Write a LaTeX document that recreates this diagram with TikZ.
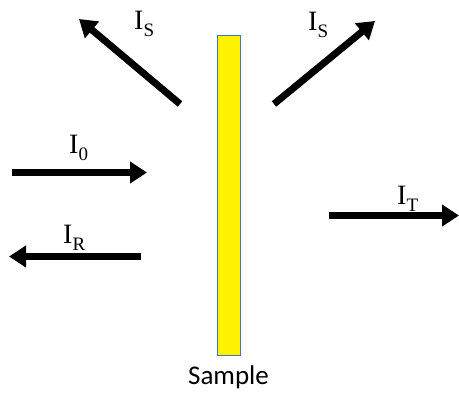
\documentclass[tikz,border=0pt]{standalone}
\usepackage{fontspec}
\setmainfont{Liberation Serif}
\newfontfamily\carlito{Carlito}
\usetikzlibrary{arrows.meta}
\definecolor{rimblue}{RGB}{68,114,196}
\newcommand\intlbl[1]{I\raisebox{-0.28em}{\fontsize{19}{19}\selectfont #1}}
\tikzset{
  beam/.style={line width=7pt, -{Triangle[length=17pt,width=21pt]}},
  lbl/.style={anchor=base west, inner sep=0pt, font=\fontsize{28}{28}\selectfont},
}
\begin{document}
\begin{tikzpicture}[x=1pt,y=-1pt]
\useasboundingbox (0,0) rectangle (459,392);
\node[draw=rimblue, line width=1pt, fill=yellow, minimum width=23pt, minimum height=320pt, inner sep=0pt] (sample) at (229,195) {};
\node[inner sep=0pt, font=\carlito\fontsize{27}{27}\selectfont] (samplelbl) at (228.5,377) {Sample};
% beams
\coordinate (s1a) at (180,104); \coordinate (s1b) at (79,19);
\coordinate (s2a) at (274,104); \coordinate (s2b) at (375,21);
\coordinate (i0a) at (12,172.5); \coordinate (i0b) at (147,172.5);
\coordinate (ira) at (141,256.5); \coordinate (irb) at (9,256.5);
\coordinate (ita) at (329,215.5); \coordinate (itb) at (459,215.5);
\draw[beam] (s1a) -- (s1b);
\draw[beam] (s2a) -- (s2b);
\draw[beam] (i0a) -- (i0b);
\draw[beam] (ira) -- (irb);
\draw[beam] (ita) -- (itb);
% labels
\node[lbl] (ls1) at (134,29) {\intlbl{S}};
\node[lbl] (ls2) at (308,30) {\intlbl{S}};
\node[lbl] (l0) at (69,153) {\intlbl{0}};
\node[lbl] (lr) at (63,243) {\intlbl{R}};
\node[lbl] (lt) at (397,204) {\intlbl{T}};
\end{tikzpicture}
\end{document}
